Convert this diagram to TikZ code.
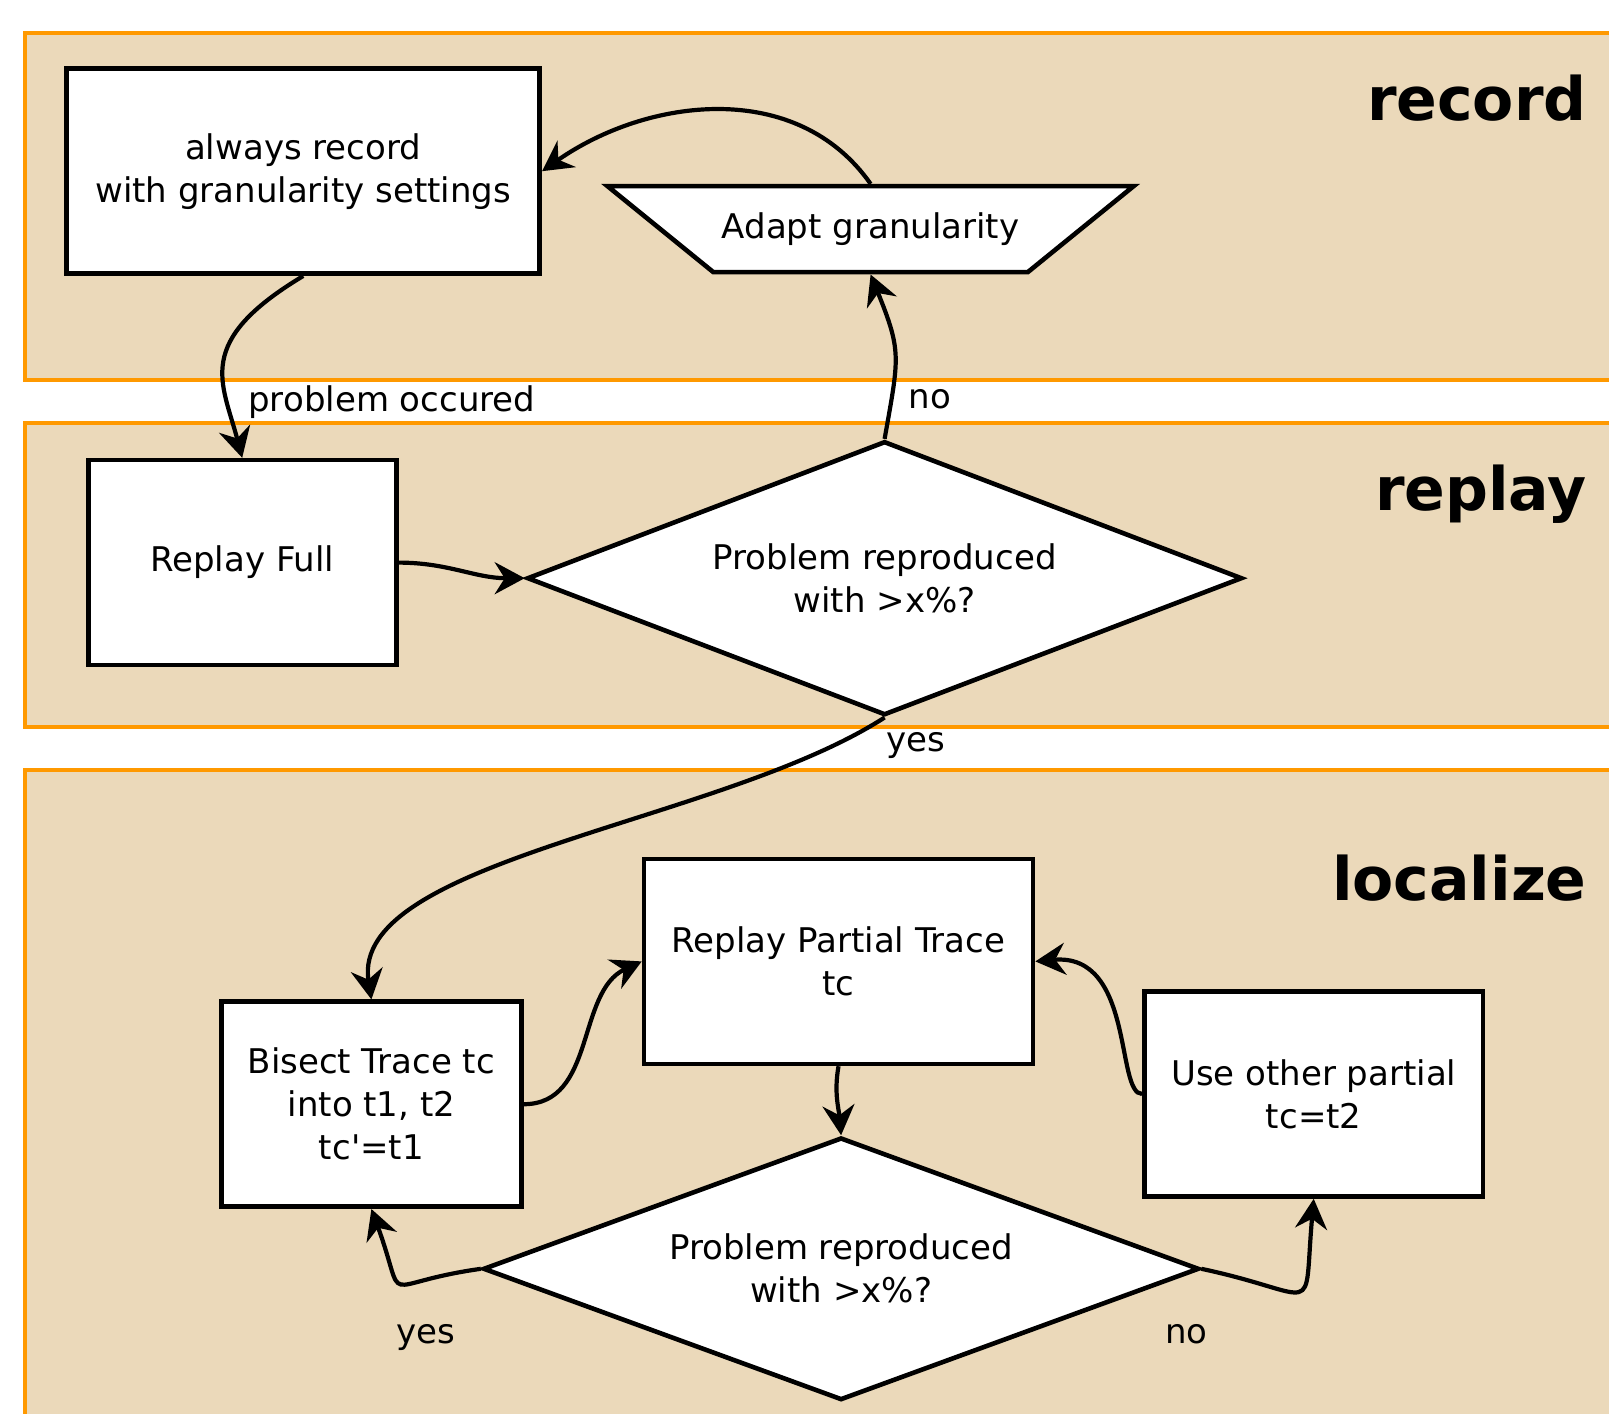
\documentclass[tikz,border=0pt]{standalone}
\usepackage{fontspec}
\setmainfont{DejaVu Sans}
\newfontfamily\flowfont{DejaVu Sans}
\usepackage{tikz}
\usetikzlibrary{positioning, shapes.geometric, arrows.meta}
\definecolor{lanefill}{RGB}{235,217,186}
\definecolor{laneline}{RGB}{255,153,0}
\tikzset{
	lane/.style = {draw=laneline, fill=lanefill, line width=2pt},
	lanename/.style = {anchor=base east, inner sep=0pt, font=\flowfont\fontsize{30}{36}\selectfont\bfseries}}
\tikzset{
	box/.style = {rectangle, draw=black, fill=white, line width=2.3pt, minimum height=102.5pt, align=center},
	decision/.style = {diamond, draw=black, fill=white, line width=2.3pt, aspect=2.6, inner sep=0pt, align=center},
	adjust/.style = {trapezium, trapezium left angle=23.6, trapezium right angle=23.6, shape border rotate=180,
	 trapezium stretches body, draw=black, fill=white, line width=2.3pt, minimum width=263pt, minimum height=43pt}}
\tikzset{
	flow/.style = {line width=2.1pt, -{Stealth[length=15pt, width=16pt, inset=5pt]}},
	cond/.style = {inner sep=0pt}}

\begin{document}
\begin{tikzpicture}[x=1pt, y=1pt, font=\flowfont\fontsize{17}{21.5}\selectfont]
\useasboundingbox (0,0) rectangle (804.5,-706.5);

% LANES
\draw [lane] (12.3,-16.7) rectangle (830,-190);
\draw [lane] (12.3,-211.7) rectangle (830,-363.3);
\draw [lane] (12.3,-385) rectangle (830,-730);
\node (recname) [lanename] at (793.5,-60) {record};
\node (repname) [lanename] at (793.5,-255) {replay};
\node (locname) [lanename] at (793.5,-450) {localize};

% NODES
% record
\node (rec) [box, minimum width=236.5pt] at (151.6,-85.6) {always record\\with granularity settings};
% replay
\node (full) [box, minimum width=154pt, below=90.9pt of rec, xshift=-30.5pt] {Replay Full};
\node (d1) [decision, minimum width=357.6pt, minimum height=137pt, right=63.1pt of full, yshift=-7.8pt] {Problem reproduced\\with >x\%?};
\node (adapt) [adjust, above=82.2pt of d1, xshift=-7pt] {Adapt granularity};
% localize
\node (bisect) [box, minimum width=150pt, below=166pt of full, xshift=64.6pt] {Bisect Trace tc\\into t1, t2\\tc'=t1};
\node (partial) [box, minimum width=194.5pt, right=59pt of bisect, yshift=71.4pt] {Replay Partial Trace\\tc};
\node (d2) [decision, minimum width=358pt, minimum height=131.3pt, below=34.5pt of partial, xshift=1.3pt] {Problem reproduced\\with >x\%?};
\node (other) [box, minimum width=169.3pt, right=53.4pt of partial, yshift=-66.3pt] {Use other partial\\tc=t2};
% conditions
\node (occured) [cond, anchor=base west] at (124,-205.8) {problem occured};
\node (noup) [cond, anchor=base] at (465,-204.2) {no};
\node (yesup) [cond, anchor=base] at (457.8,-375.8) {yes};
\node (yesdown) [cond, anchor=base] at (212.7,-671.7) {yes};
\node (nodown) [cond, anchor=base] at (593.2,-671.7) {no};

%CONNECTIONS
\draw [flow] (rec.south) .. controls +(-55,-33) and +(-10,38) .. (full.north);
\draw [flow] (adapt.north) to [out=125, in=35] (rec.east);
\draw [flow] (d1.north) to [out=80, in=-68, looseness=1.3] (adapt.south);
\draw [flow] (full.east) to [out=0, in=180] (d1.west);
\draw [flow] (d1.south) .. controls +(-82,-53) and +(-11,70) .. (bisect.north);
\draw [flow] (bisect.east) to [out=0, in=-155] (partial.west);
\draw [flow] (partial.south) to [out=-100, in=95] (d2.north);
\draw [flow] (d2.west) to [out=188, in=-70, looseness=2.2] (bisect.south);
\draw [flow] (d2.east) to [out=-12, in=-95, looseness=2.4] (other.south);
\draw [flow] (other.west) to [out=180, in=5, out looseness=0.4, in looseness=1.5] (partial.east);

\end{tikzpicture}
\end{document}
